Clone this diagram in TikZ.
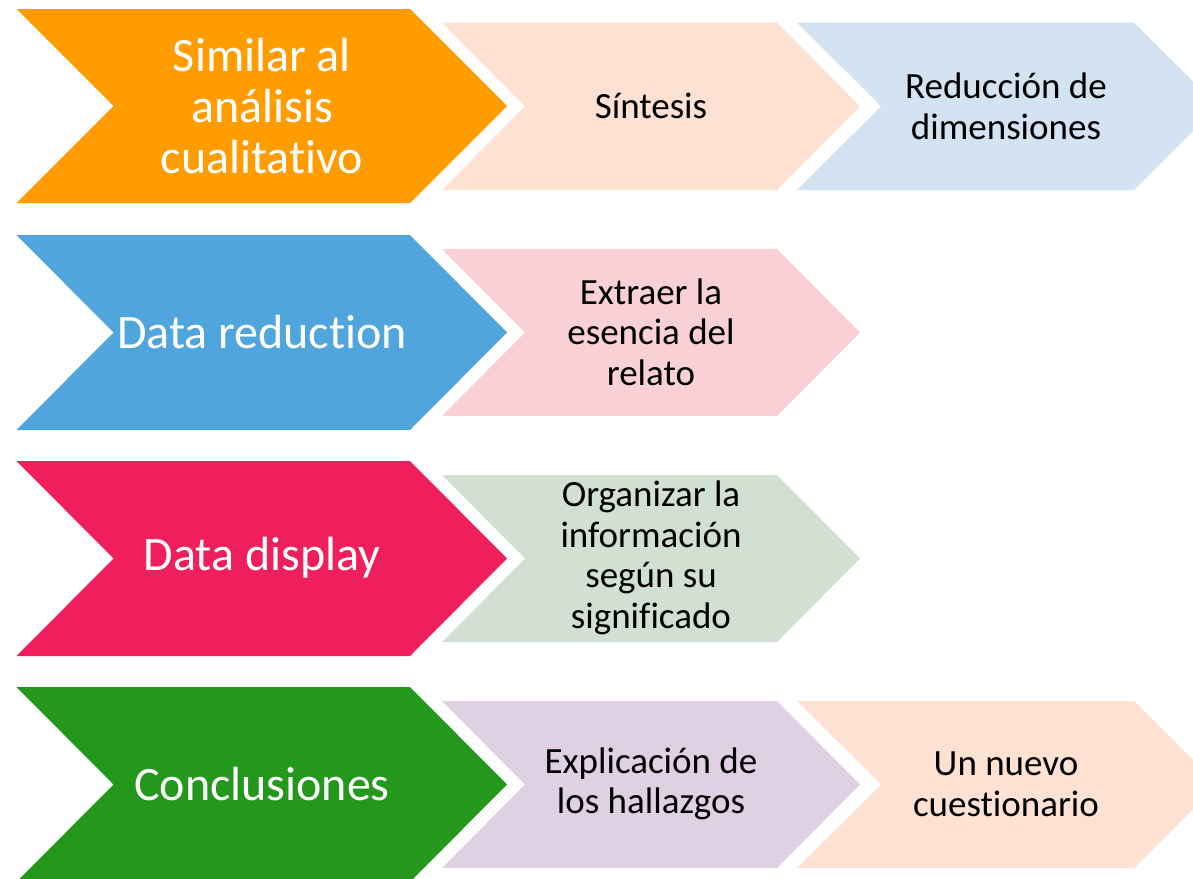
\documentclass[tikz,border=0pt]{standalone}
\usepackage{fontspec}
\setmainfont[Ligatures=NoCommon]{Carlito}
\definecolor{corange}{HTML}{FF9C00}
\definecolor{cblue}{HTML}{50A6DC}
\definecolor{ccrimson}{HTML}{EF1E5C}
\definecolor{cgreen}{HTML}{23981C}
\definecolor{cpeach}{HTML}{FDE1D2}
\definecolor{clblue}{HTML}{D4E3F2}
\definecolor{clpink}{HTML}{F8D0D6}
\definecolor{clgreen}{HTML}{D1E0D2}
\definecolor{clav}{HTML}{DFD0E3}
\newcommand\chevshape[6]{%
  \fill[#1] (#2,#4) -- ({#3-#6},#4) -- (#3,{(#4+#5)/2}) -- ({#3-#6},#5) -- (#2,#5) -- ({#2+#6},{(#4+#5)/2}) -- cycle;}
\tikzset{
  bigtext/.style={text=white, align=center, font=\fontsize{48}{51}\selectfont, inner sep=0pt},
  smalltext/.style={text=black, align=center, font=\fontsize{37}{40.6}\selectfont, inner sep=0pt},
}
\begin{document}
\begin{tikzpicture}[x=1pt,y=-1pt]
\clip (0,0) rectangle (1193,878);
\fill[white] (0,0) rectangle (1193,878);
% big chevrons
\chevshape{corange}{16.5}{507}{9}{203}{97}
\chevshape{cblue}{16.5}{507}{235}{430}{97}
\chevshape{ccrimson}{16.5}{507}{461}{656}{97}
\chevshape{cgreen}{16.5}{507}{687}{882}{97}
% column 2
\chevshape{cpeach}{442}{860}{22.7}{190}{83}
\chevshape{clpink}{442}{860}{249}{416}{83}
\chevshape{clgreen}{442}{860}{475}{642}{83}
\chevshape{clav}{442}{860}{701}{868}{83}
% column 3
\chevshape{clblue}{797}{1218}{22.7}{190}{84}
\chevshape{cpeach}{797}{1218}{701}{868}{84}
% texts
\node[bigtext] (t1) at (262,106) {Similar al\\análisis\\cualitativo};
\node[bigtext] (t2) at (262,332) {Data reduction};
\node[bigtext] (t3) at (262,558) {Data display};
\node[bigtext] (t4) at (262,784) {Conclusiones};
\node[smalltext] (s1) at (651,106) {Síntesis};
\node[smalltext] (s2) at (651,332) {Extraer la\\esencia del\\relato};
\node[smalltext] (s3) at (651,558) {Organizar la\\información\\según su\\significado};
\node[smalltext] (s4) at (651,784) {Explicación de\\los hallazgos};
\node[smalltext] (r1) at (1006,106) {Reducción de\\dimensiones};
\node[smalltext] (r4) at (1006,784) {Un nuevo\\cuestionario};
\end{tikzpicture}
\end{document}
